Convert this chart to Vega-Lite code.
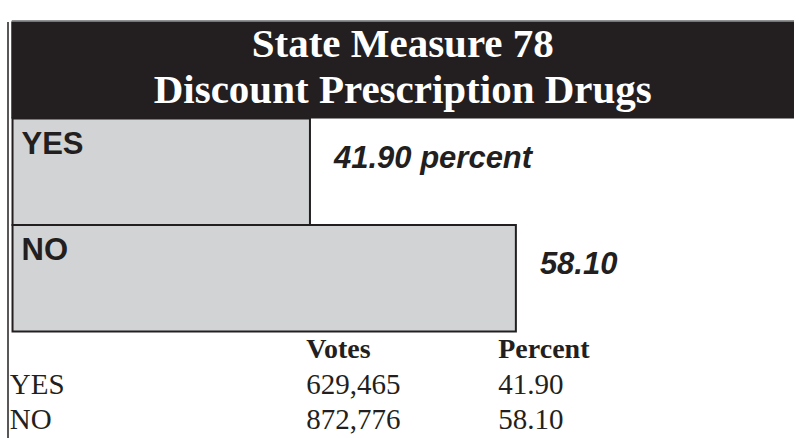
{
  "$schema": "https://vega.github.io/schema/vega-lite/v6.json",
  "padding": {"left": 7.25, "top": 20.5, "right": 0, "bottom": 0},
  "background": "white",
  "spacing": 0,
  "bounds": "flush",
  "config": {"view": {"stroke": null}, "concat": {"spacing": 0}},
  "datasets": {
    "title": [
      {"measure": "78", "line": "State Measure 78\nDiscount Prescription Drugs"}
    ],
    "results": [
      {"choice": "YES", "votes": 629465, "percent": 41.9, "label": "41.90 percent"},
      {"choice": "NO", "votes": 872776, "percent": 58.1, "label": "58.10"}
    ],
    "columns": [
      {"column": "votes", "title": "Votes"},
      {"column": "percent", "title": "Percent"}
    ]
  },
  "vconcat": [
    {
      "width": 783,
      "height": 97,
      "view": {"fill": "#231f20", "stroke": null},
      "data": {"name": "title"},
      "mark": {"type": "text", "font": "Liberation Serif", "fontWeight": "bold", "fontSize": 41, "fill": "white", "align": "center", "baseline": "top", "lineBreak": "\n", "lineHeight": 46, "dy": 3},
      "encoding": {
        "x": {"field": "measure", "type": "nominal", "scale": {"type": "point"},
              "axis": {"orient": "top", "domain": true, "domainColor": "#6d6e71", "domainWidth": 1.3, "ticks": false, "labels": false, "grid": false, "title": null, "offset": 1, "minExtent": 0}},
        "y": {"field": "measure", "type": "nominal", "scale": {"type": "point", "padding": 0, "align": 0},
              "axis": {"orient": "left", "domain": true, "domainColor": "#231f20", "domainWidth": 1.5, "ticks": false, "labels": false, "grid": false, "title": null, "offset": 3.75, "minExtent": 0}},
        "text": {"field": "line"}
      }
    },
    {
      "width": 783,
      "height": 213,
      "data": {"name": "results"},
      "encoding": {
        "y": {"field": "choice", "type": "nominal", "sort": null, "scale": {"type": "band", "paddingInner": 0, "paddingOuter": 0},
              "axis": {"orient": "left", "domain": true, "domainColor": "#231f20", "domainWidth": 1.5, "ticks": false, "labels": false, "grid": false, "title": null, "offset": 3.75, "minExtent": 0}}
      },
      "layer": [
        {
          "mark": {"type": "bar", "fill": "#d1d3d4", "stroke": "#231f20", "strokeWidth": 2},
          "encoding": {
            "x": {"field": "percent", "type": "quantitative", "scale": {"domain": [18.4, 80], "zero": false, "nice": false}, "axis": null},
            "x2": {"datum": 18.5}
          }
        },
        {
          "mark": {"type": "text", "font": "Liberation Sans", "fontWeight": "bold", "fontSize": 31, "fill": "#231f20", "align": "left", "baseline": "alphabetic", "dx": 9, "dy": -18},
          "encoding": {
            "x": {"datum": 18.5, "type": "quantitative", "axis": null},
            "text": {"field": "choice"}
          }
        },
        {
          "mark": {"type": "text", "font": "Liberation Sans", "fontWeight": "bold", "fontStyle": "italic", "fontSize": 31, "fill": "#231f20", "align": "left", "baseline": "alphabetic", "dx": 24, "dy": -4},
          "encoding": {
            "x": {"field": "percent", "type": "quantitative", "axis": null},
            "text": {"field": "label"}
          }
        }
      ]
    },
    {
      "spacing": 0,
      "bounds": "flush",
      "hconcat": [
        {
          "width": 295,
          "height": 106,
          "data": {"name": "results"},
          "transform": [{"fold": ["choice"], "as": ["column", "cell"]}],
          "mark": {"type": "text", "font": "Liberation Serif", "fontSize": 29, "fill": "#231f20", "align": "left", "baseline": "alphabetic", "dy": 9, "dx": -1.5},
          "encoding": {
            "x": {"field": "column", "type": "nominal", "scale": {"type": "point", "padding": 0, "align": 0}, "axis": null},
            "y": {"field": "choice", "type": "nominal", "scale": {"type": "point", "domain": ["head", "YES", "NO"], "padding": 0.493},
                  "axis": {"orient": "left", "domain": true, "domainColor": "#231f20", "domainWidth": 1.5, "ticks": false, "labels": false, "grid": false, "title": null, "offset": 3.75, "minExtent": 0}},
            "text": {"field": "cell"}
          }
        },
        {
          "width": 192,
          "height": 106,
          "layer": [
            {
              "data": {"name": "columns"},
              "transform": [{"filter": "datum.column === 'votes'"}],
              "mark": {"type": "text", "font": "Liberation Serif", "fontWeight": "bold", "fontSize": 28, "fill": "#231f20", "align": "left", "baseline": "alphabetic", "dy": 9},
              "encoding": {
                "x": {"field": "column", "type": "nominal", "scale": {"type": "point", "padding": 0, "align": 0}, "axis": null},
                "y": {"datum": "head", "type": "nominal", "scale": {"type": "point", "domain": ["head", "YES", "NO"], "padding": 0.493}, "axis": null},
                "text": {"field": "title"}
              }
            },
            {
              "data": {"name": "results"},
              "transform": [{"fold": ["votes"], "as": ["column", "cell"]}],
              "mark": {"type": "text", "font": "Liberation Serif", "fontSize": 29, "fill": "#231f20", "align": "left", "baseline": "alphabetic", "dy": 9},
              "encoding": {
                "x": {"field": "column", "type": "nominal", "axis": null},
                "y": {"field": "choice", "type": "nominal", "axis": null},
                "text": {"field": "cell", "type": "quantitative", "format": ","}
              }
            }
          ]
        },
        {
          "width": 296,
          "height": 106,
          "layer": [
            {
              "data": {"name": "columns"},
              "transform": [{"filter": "datum.column === 'percent'"}],
              "mark": {"type": "text", "font": "Liberation Serif", "fontWeight": "bold", "fontSize": 28, "fill": "#231f20", "align": "left", "baseline": "alphabetic", "dy": 9},
              "encoding": {
                "x": {"field": "column", "type": "nominal", "scale": {"type": "point", "padding": 0, "align": 0}, "axis": null},
                "y": {"datum": "head", "type": "nominal", "scale": {"type": "point", "domain": ["head", "YES", "NO"], "padding": 0.493}, "axis": null},
                "text": {"field": "title"}
              }
            },
            {
              "data": {"name": "results"},
              "transform": [{"fold": ["percent"], "as": ["column", "cell"]}],
              "mark": {"type": "text", "font": "Liberation Serif", "fontSize": 29, "fill": "#231f20", "align": "left", "baseline": "alphabetic", "dy": 9},
              "encoding": {
                "x": {"field": "column", "type": "nominal", "axis": null},
                "y": {"field": "choice", "type": "nominal", "axis": null},
                "text": {"field": "cell", "type": "quantitative", "format": ".2f"}
              }
            }
          ]
        }
      ]
    }
  ]
}
